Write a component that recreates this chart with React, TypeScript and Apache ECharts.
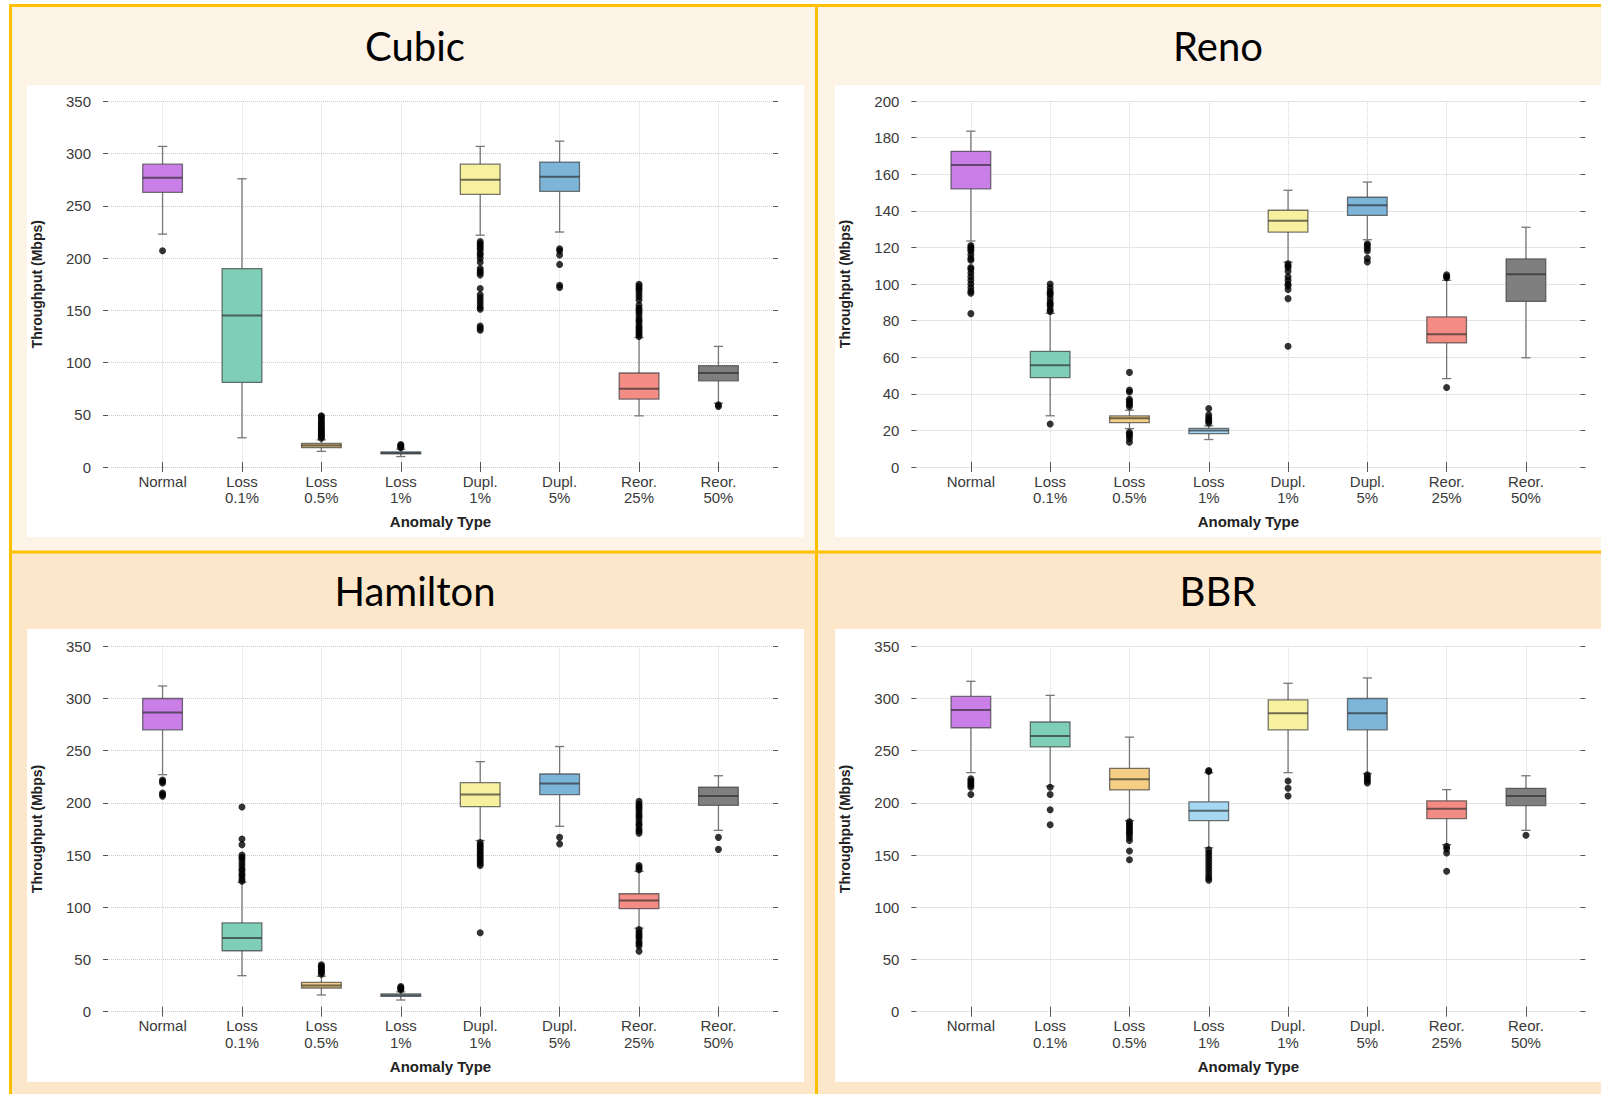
import React, { useEffect, useRef } from "react";
import * as echarts from "echarts";

// ---------- data ----------
const categories = ["Normal", "Loss\n0.1%", "Loss\n0.5%", "Loss\n1%", "Dupl.\n1%", "Dupl.\n5%", "Reor.\n25%", "Reor.\n50%"];
const categoryPositions = [1, 2, 3, 4, 5, 6, 7, 8];
const boxColors = ["#C97EE8", "#7FCEB7", "#F3CE84", "#A6D8F2", "#F7F09F", "#7DB5D9", "#F28C85", "#7F7F7F"];

const panelTitles = ["Cubic", "Reno", "Hamilton", "BBR"];
const yMaxima = [350, 200, 350, 350];
const yIntervals = [50, 20, 50, 50];

// [lower whisker, Q1, median, Q3, upper whisker]
const cubicBoxes = [
  [223, 263, 277, 290, 307],
  [28, 81, 145, 190, 276],
  [15, 18.5, 20.5, 22.5, 26],
  [10, 12.5, 13.5, 14.5, 17],
  [222, 261, 275, 290, 307],
  [225, 264, 278, 292, 312],
  [49, 65, 75, 90, 124],
  [61, 82.5, 90, 97, 115.5],
];
const cubicOutliers = [
  [207],
  [],
  [27.5, 29, 30.5, 32, 33.5, 35, 36.5, 38, 40, 42, 44, 46, 48, 49],
  [18.5, 19.5, 20.5, 21.5],
  [216, 214, 212, 210, 208, 205, 203, 200, 196, 190, 188, 186, 184, 171, 165, 162, 159, 156, 153, 151, 135, 133, 131],
  [209, 207, 203, 194, 174, 172],
  [125, 127, 129, 131, 133, 135, 138, 140, 142, 145, 148, 150, 152, 155, 160, 163, 166, 169, 171, 173, 175],
  [59.5, 58],
];

const renoBoxes = [
  [123.5, 152, 165, 172.5, 183.5],
  [28, 48.8, 55.6, 63.2, 84],
  [21, 24.2, 26.6, 27.9, 31],
  [15, 18.2, 20, 21.1, 22.5],
  [112, 128.4, 134.6, 140.3, 151.2],
  [124.2, 137.5, 143, 147.4, 155.7],
  [48.3, 67.8, 72.5, 82, 102],
  [59.7, 90.5, 105.3, 113.7, 131],
];
const renoOutliers = [
  [121, 120, 119, 118, 116, 114, 113, 109, 108, 106, 104, 102, 100, 98, 96, 95, 83.8],
  [100, 98, 96, 95, 94, 92, 90, 89, 88, 86, 85, 23.5],
  [51.7, 42, 41, 37, 36, 35, 34, 33, 19, 18, 17, 15.5, 13.5],
  [32, 28.5, 27, 26, 25, 24],
  [111, 110, 109, 107, 104, 102, 100, 99, 97, 92, 66],
  [122, 121, 119.5, 118, 114, 112],
  [105, 104, 103.5, 43.4],
  [],
];

const hamiltonBoxes = [
  [227, 270, 286.5, 300, 312],
  [34.5, 58.4, 70.6, 85, 124],
  [16, 22.7, 25.2, 28, 34],
  [11.2, 14.7, 15.8, 17, 19],
  [164, 196.4, 208, 219.4, 239.5],
  [177.6, 208, 218.5, 227.7, 254],
  [80, 98.7, 106.4, 113, 134.5],
  [173.7, 197.7, 206.6, 215, 226],
];
const hamiltonOutliers = [
  [222, 220.5, 219, 209.5, 208, 206.5],
  [196, 165.5, 160, 150, 148, 146, 143, 140, 137, 135, 132, 130, 127, 125],
  [45, 43.5, 42, 40.5, 39, 37.5, 36],
  [24, 23, 22, 21],
  [162, 160, 158, 156, 154, 152, 150, 148, 146, 144, 142, 140, 75.7],
  [167, 160.7],
  [201.5, 199, 197, 195, 193, 190, 188, 186, 183, 180, 178, 175, 173, 171, 140, 138, 136, 78.6, 76, 74, 72, 70, 67, 65, 63, 58],
  [167, 155.5],
];

const bbrBoxes = [
  [229, 272, 289, 302, 316.5],
  [216, 253.6, 264, 277.5, 303],
  [183, 212.4, 222.6, 233, 263],
  [157, 183, 192.6, 201, 229],
  [229, 270, 285.8, 298.6, 314.6],
  [228, 270, 285.8, 300, 319.7],
  [160, 185, 194.5, 202, 212.7],
  [173.7, 197.4, 206.6, 214, 226],
];
const bbrOutliers = [
  [223, 221, 219, 217, 215, 208],
  [215, 208, 193.5, 179],
  [182, 180, 178, 176, 174, 172, 170, 167, 164, 154, 145.6],
  [231, 230, 155, 152, 149, 146, 143, 140, 137, 134, 131, 128, 126],
  [221, 214, 206.6],
  [227, 225, 223, 221, 219],
  [158.4, 156, 152, 134.5],
  [169],
];

const panelBoxes = [cubicBoxes, renoBoxes, hamiltonBoxes, bbrBoxes];
const panelOutliers = [cubicOutliers, renoOutliers, hamiltonOutliers, bbrOutliers];

// ---------- layout / style ----------
const W = 1601;
const H = 1094;
const grids = [
  { left: 103, top: 101.5, width: 675, height: 365.5 },
  { left: 911.4, top: 101, width: 674, height: 366 },
  { left: 103, top: 646.3, width: 675, height: 365.4 },
  { left: 911.4, top: 646.3, width: 674, height: 365.4 },
];
const titlePos = [
  [415, 46],
  [1218, 46],
  [415, 591],
  [1218, 591],
];
const FONT = "'Liberation Sans', Arial, sans-serif";
const TITLE_FONT = "Lato, 'Open Sans', sans-serif";
const GOLD = "#FFC000";
const TOP_BG = "#FEF3E7";
const BOTTOM_BG = "#FDE7CB";

const tickStyle = { inside: true, length: 5, lineStyle: { color: "#555", width: 1 } };
const gridLineStyle = { show: true, lineStyle: { color: "#cccccc", width: 1, type: "dotted" as const } };

function buildOption() {
  const xAxis: any[] = [];
  const yAxis: any[] = [];
  const series: any[] = [];

  grids.forEach((g, p) => {
    const xb = xAxis.length;
    xAxis.push({
      type: "value",
      gridIndex: p,
      position: "bottom",
      min: 0.25,
      max: 8.75,
      axisLine: { show: false },
      axisTick: { ...tickStyle, customValues: categoryPositions },
      splitLine: { ...gridLineStyle, lineStyle: { ...gridLineStyle.lineStyle, color: "#d6d6d6" } },
      axisLabel: {
        customValues: categoryPositions,
        formatter: (v: number) => categories[Math.round(v) - 1] ?? "",
        color: "#3a3a3a",
        fontFamily: FONT,
        fontSize: 15,
        lineHeight: 16.5,
        margin: 6,
      },
      name: "Anomaly Type",
      nameLocation: "middle",
      nameGap: 47,
      nameTextStyle: { fontFamily: FONT, fontSize: 15, fontWeight: "bold", color: "#222" },
    });
    xAxis.push({
      type: "value",
      gridIndex: p,
      position: "top",
      min: 0.25,
      max: 8.75,
      axisLine: { show: false },
      axisTick: { ...tickStyle, customValues: categoryPositions },
      splitLine: { show: false },
      axisLabel: { show: false },
    });
    const yl = yAxis.length;
    yAxis.push({
      type: "value",
      gridIndex: p,
      position: "left",
      min: 0,
      max: yMaxima[p],
      interval: yIntervals[p],
      axisLine: { show: false },
      axisTick: tickStyle,
      splitLine: gridLineStyle,
      axisLabel: { color: "#3a3a3a", fontFamily: FONT, fontSize: 15, margin: 12 },
      name: "Throughput (Mbps)",
      nameLocation: "middle",
      nameGap: 59,
      nameTextStyle: { fontFamily: FONT, fontSize: 14, fontWeight: "bold", color: "#222" },
    });
    yAxis.push({
      type: "value",
      gridIndex: p,
      position: "right",
      min: 0,
      max: yMaxima[p],
      interval: yIntervals[p],
      axisLine: { show: false },
      axisTick: tickStyle,
      splitLine: { show: false },
      axisLabel: { show: false },
    });

    series.push({
      type: "custom",
      xAxisIndex: xb,
      yAxisIndex: yl,
      z: 2,
      data: panelBoxes[p].map((b, i) => [categoryPositions[i], ...b]),
      encode: { x: 0, y: [1, 2, 3, 4, 5] },
      renderItem: (params: any, api: any) => {
        const x = api.value(0);
        const pLo = api.coord([x, api.value(1)]);
        const pQ1 = api.coord([x, api.value(2)]);
        const pMd = api.coord([x, api.value(3)]);
        const pQ3 = api.coord([x, api.value(4)]);
        const pHi = api.coord([x, api.value(5)]);
        const unit = api.size([1, 0])[0];
        const half = unit * 0.25;
        const capHalf = unit * 0.058;
        const cx = pMd[0];
        const whisker = { stroke: "#777", lineWidth: 1.3 };
        return {
          type: "group",
          children: [
            { type: "line", shape: { x1: cx, y1: pLo[1], x2: cx, y2: pQ1[1] }, style: whisker },
            { type: "line", shape: { x1: cx, y1: pQ3[1], x2: cx, y2: pHi[1] }, style: whisker },
            { type: "line", shape: { x1: cx - capHalf, y1: pLo[1], x2: cx + capHalf, y2: pLo[1] }, style: whisker },
            { type: "line", shape: { x1: cx - capHalf, y1: pHi[1], x2: cx + capHalf, y2: pHi[1] }, style: whisker },
            {
              type: "rect",
              shape: { x: cx - half, y: pQ3[1], width: 2 * half, height: pQ1[1] - pQ3[1] },
              style: { fill: boxColors[params.dataIndex], stroke: "rgba(60,60,60,0.7)", lineWidth: 1.3 },
            },
            {
              type: "line",
              shape: { x1: cx - half, y1: pMd[1], x2: cx + half, y2: pMd[1] },
              style: { stroke: "rgba(40,40,40,0.65)", lineWidth: 2 },
            },
          ],
        };
      },
    });

    const pts: number[][] = [];
    panelOutliers[p].forEach((arr, i) => arr.forEach((v) => pts.push([categoryPositions[i], v])));
    series.push({
      type: "scatter",
      xAxisIndex: xb,
      yAxisIndex: yl,
      z: 3,
      symbol: "circle",
      symbolSize: 7,
      itemStyle: { color: "#000" },
      data: pts,
    });
  });

  const graphic: any[] = [
    { type: "rect", z: -20, shape: { x: 9, y: 4, width: W - 9, height: 549 }, style: { fill: TOP_BG } },
    { type: "rect", z: -20, shape: { x: 9, y: 552, width: W - 9, height: H - 552 }, style: { fill: BOTTOM_BG } },
    { type: "rect", z: -15, shape: { x: 27, y: 85, width: 777, height: 452 }, style: { fill: "#fff" } },
    { type: "rect", z: -15, shape: { x: 835, y: 85, width: W - 835, height: 452 }, style: { fill: "#fff" } },
    { type: "rect", z: -15, shape: { x: 27, y: 629, width: 777, height: 453 }, style: { fill: "#fff" } },
    { type: "rect", z: -15, shape: { x: 835, y: 629, width: W - 835, height: 453 }, style: { fill: "#fff" } },
    { type: "line", z: -10, shape: { x1: 9, y1: 5.5, x2: W, y2: 5.5 }, style: { stroke: GOLD, lineWidth: 3 } },
    { type: "line", z: -10, shape: { x1: 10.5, y1: 4, x2: 10.5, y2: H }, style: { stroke: GOLD, lineWidth: 3 } },
    { type: "line", z: -10, shape: { x1: 9, y1: 552, x2: W, y2: 552 }, style: { stroke: GOLD, lineWidth: 3 } },
    { type: "line", z: -10, shape: { x1: 816.5, y1: 4, x2: 816.5, y2: H }, style: { stroke: GOLD, lineWidth: 3 } },
  ];
  panelTitles.forEach((t, p) => {
    graphic.push({
      type: "text",
      z: 10,
      x: titlePos[p][0],
      y: titlePos[p][1],
      style: {
        text: t,
        fill: "#000",
        fontSize: 40,
        fontFamily: TITLE_FONT,
        align: "center",
        verticalAlign: "middle",
      },
    });
  });

  return {
    animation: false,
    backgroundColor: "#fff",
    grid: grids.map((g) => ({ ...g, containLabel: false })),
    xAxis,
    yAxis,
    series,
    graphic,
  };
}

export default function App() {
  const ref = useRef<HTMLDivElement>(null);
  useEffect(() => {
    document.body.style.margin = "0";
    if (!ref.current) return;
    const chart = echarts.init(ref.current, undefined, { renderer: "svg", width: W, height: H });
    chart.setOption(buildOption() as any);
    return () => chart.dispose();
  }, []);
  return <div ref={ref} style={{ width: W, height: H, position: "absolute", left: 0, top: 0 }} />;
}
